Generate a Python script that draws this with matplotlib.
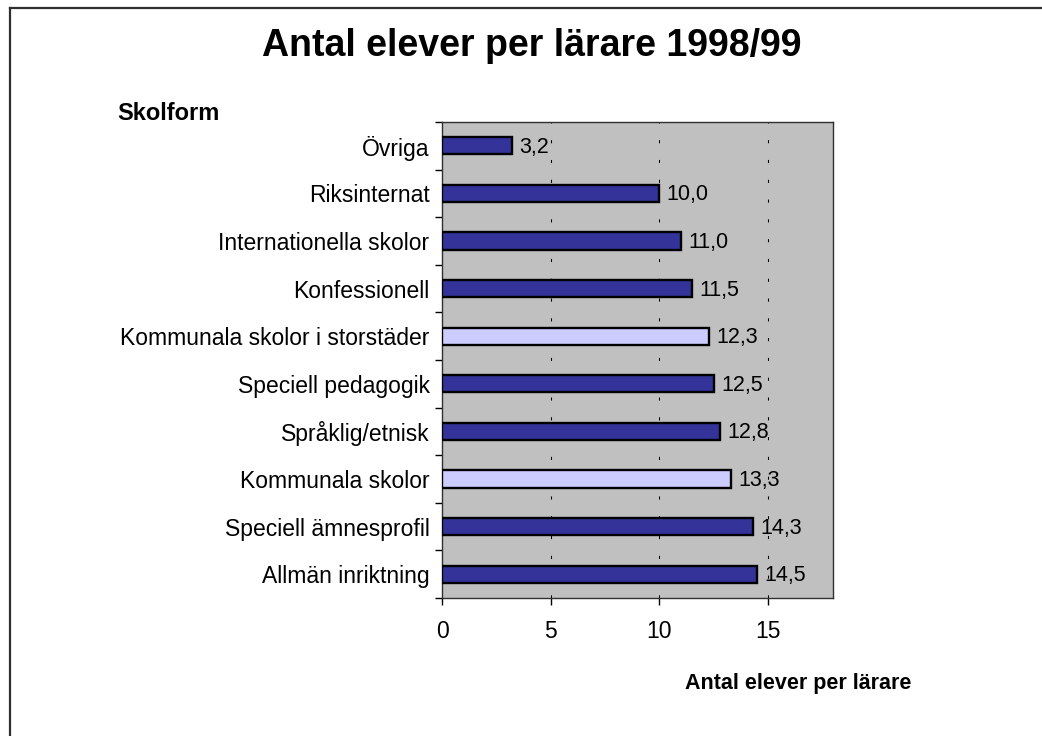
import matplotlib
matplotlib.use("Agg")
import matplotlib.pyplot as plt
from matplotlib.lines import Line2D
import numpy as np

plt.rcParams['font.family'] = ['Liberation Sans', 'DejaVu Sans']

# data, bottom to top as drawn
skolformer = ['Allmän inriktning', 'Speciell ämnesprofil', 'Kommunala skolor',
              'Språklig/etnisk', 'Speciell pedagogik', 'Kommunala skolor i storstäder',
              'Konfessionell', 'Internationella skolor', 'Riksinternat', 'Övriga']
elever_per_larare = [14.5, 14.3, 13.3, 12.8, 12.5, 12.3, 11.5, 11.0, 10.0, 3.2]
kommunal = [False, False, True, False, False, True, False, False, False, False]

dark = '#333399'
light = '#CCCCFF'

fig = plt.figure(figsize=(10.42, 7.36), dpi=100)
ax = fig.add_axes([0.4242, 0.1875, 0.3752, 0.6467])
ax.set_facecolor('#C0C0C0')

y = np.arange(len(skolformer))
colors = [light if k else dark for k in kommunal]
ax.barh(y, elever_per_larare, height=0.36, color=colors, edgecolor='black',
        linewidth=1.7, zorder=3)

for yi, v in zip(y, elever_per_larare):
    ax.text(v + 0.35, yi - 0.03, f'{v:.1f}'.replace('.', ','), va='center', ha='left',
            fontsize=15.5, zorder=4)

ax.set_xlim(0, 18)
ax.set_ylim(-0.5, len(skolformer) - 0.5)
ax.set_xticks([0, 5, 10, 15])
ax.set_yticks(y)
ax.set_yticklabels(skolformer, fontsize=16.5)
ax.set_yticks(np.arange(-0.5, len(skolformer)), minor=True)
ax.tick_params(axis='y', which='major', length=0, pad=9)
ax.tick_params(axis='y', which='minor', length=5, width=1, direction='out')
ax.tick_params(axis='x', length=5, width=1, direction='out', pad=11, labelsize=16.5)

for gx in [5, 10, 15]:
    ax.axvline(gx, color='black', linewidth=0.75, linestyle=(0, (3, 16)), zorder=1)

for s in ax.spines.values():
    s.set_color('#303030')
    s.set_linewidth(1)

fig.text(0.51, 0.938, 'Antal elever per lärare 1998/99', ha='center', va='center',
         fontsize=27, fontweight='bold')
fig.text(0.113, 0.846, 'Skolform', ha='left', va='center', fontsize=17, fontweight='bold')
fig.text(0.875, 0.072, 'Antal elever per lärare', ha='right', va='center',
         fontsize=15.5, fontweight='bold')

# frame around the chart (only left and top visible)
fig.add_artist(Line2D([0.0097, 0.0097], [0, 0.9895], transform=fig.transFigure,
                      color='#303030', linewidth=1.6))
fig.add_artist(Line2D([0.0097, 1.0], [0.9895, 0.9895], transform=fig.transFigure,
                      color='#303030', linewidth=1.6))

fig.savefig('out.png', dpi=100)
